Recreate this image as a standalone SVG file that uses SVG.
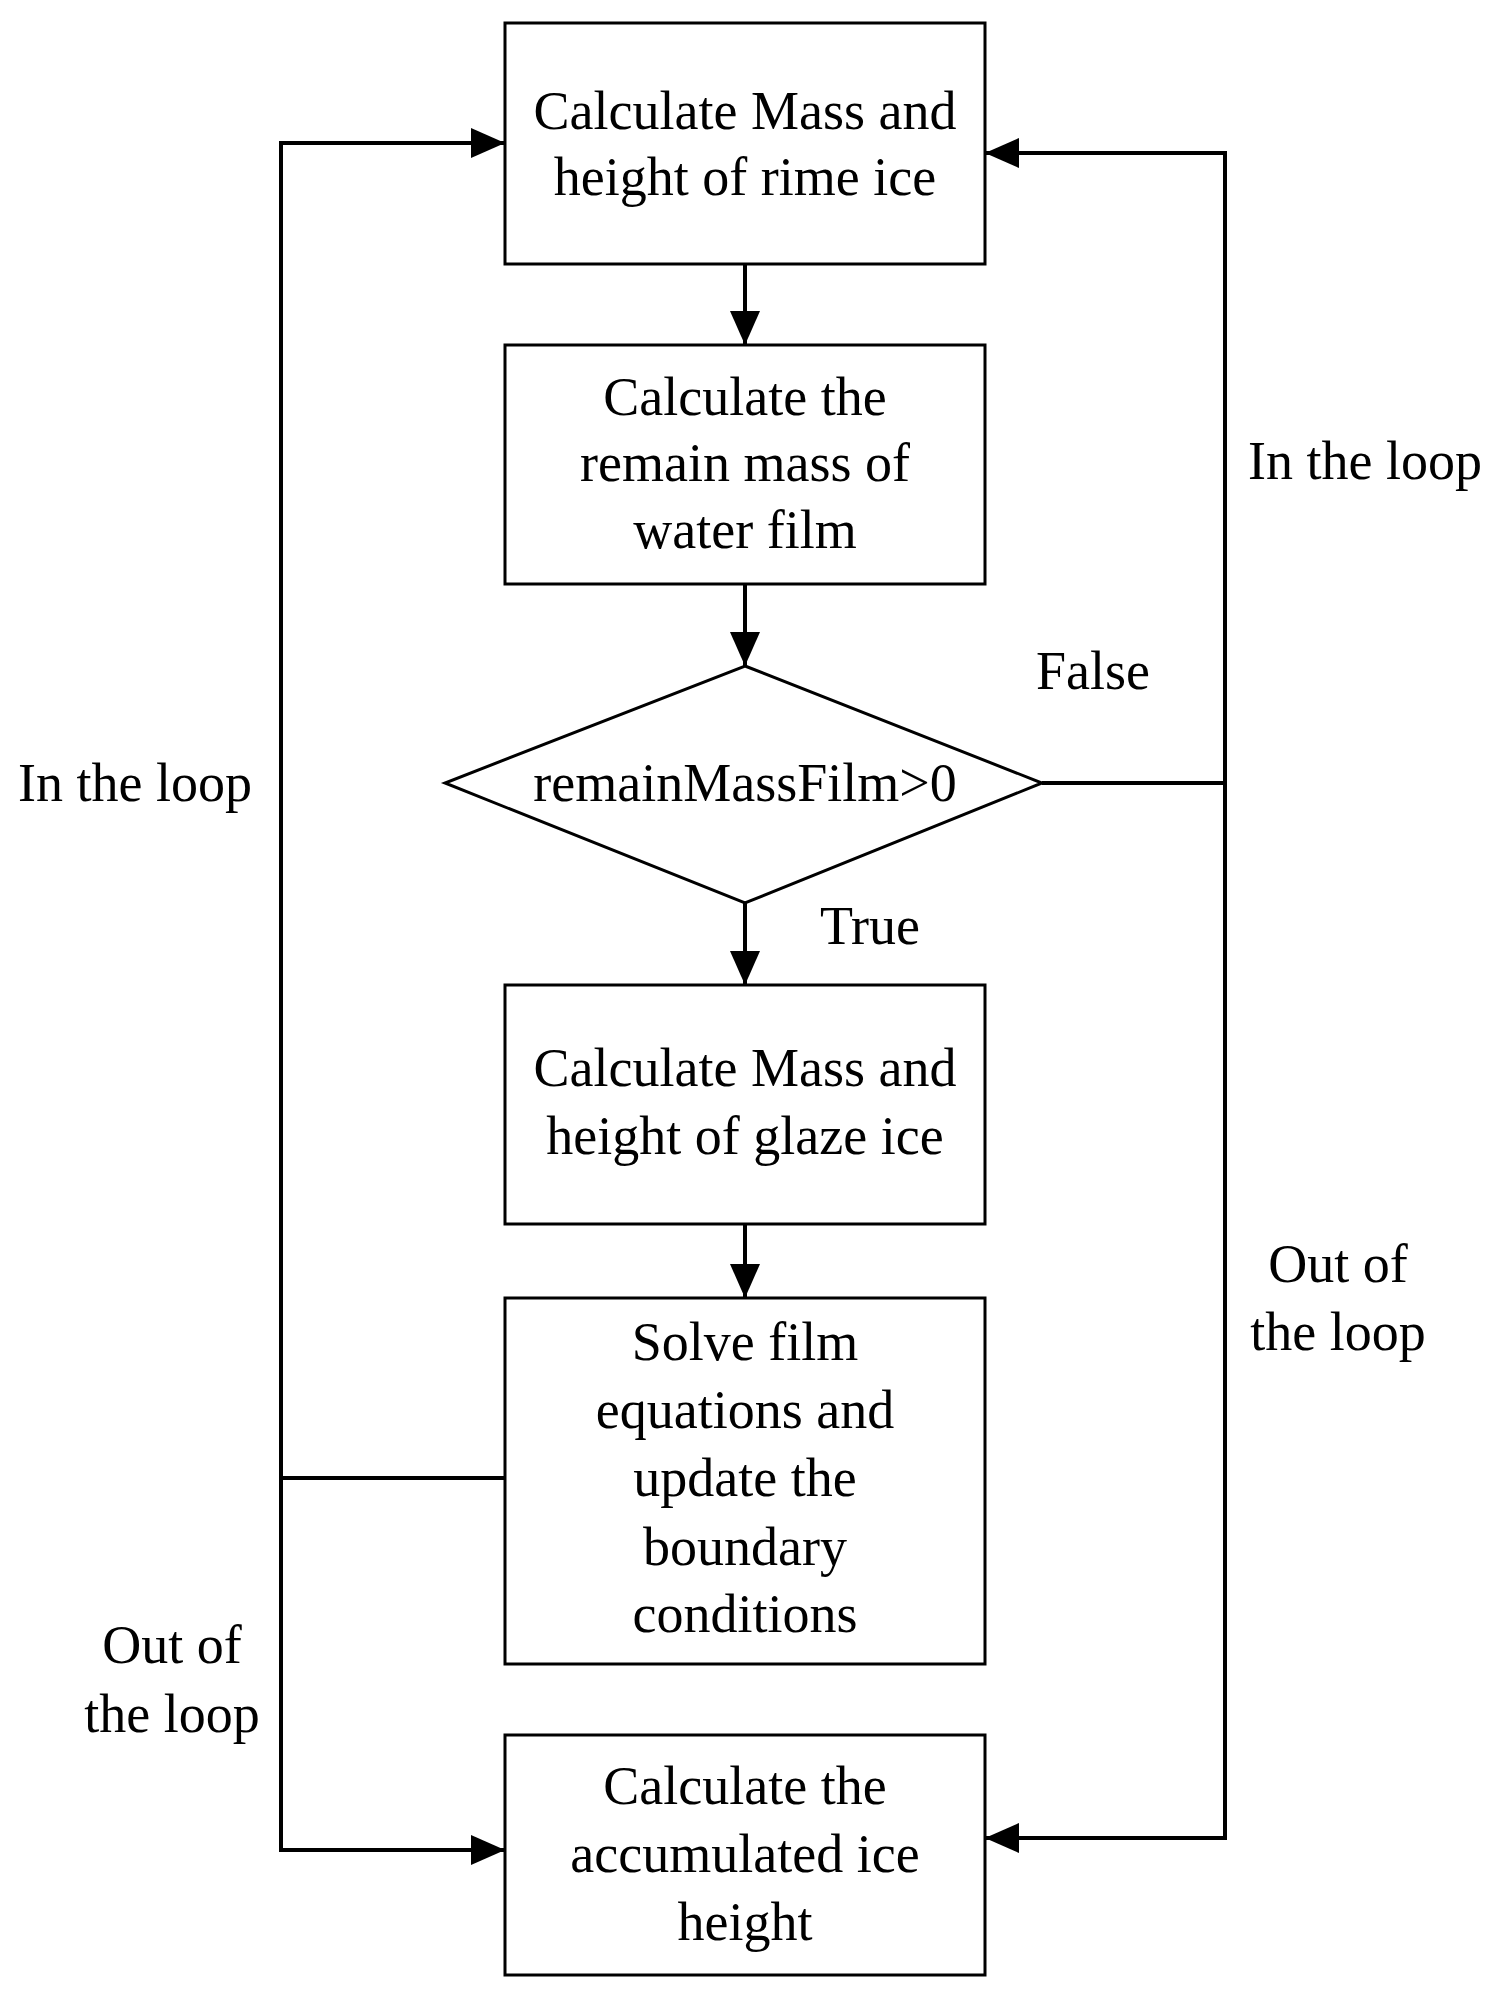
<svg xmlns="http://www.w3.org/2000/svg" width="1498" height="2000" viewBox="0 0 1498 2000">
<style>
.b{fill:#fff;stroke:#000;stroke-width:3}
.c{fill:none;stroke:#000;stroke-width:4}
text{font-family:"Liberation Serif","Times New Roman",serif;font-size:54px;fill:#000}
.m{text-anchor:middle}
</style>
<defs>
<marker id="h" viewBox="0 0 10 10" refX="10" refY="5" markerWidth="34" markerHeight="30" orient="auto" markerUnits="userSpaceOnUse" preserveAspectRatio="none"><path d="M0,0 L10,5 L0,10 z"/></marker></defs>
<rect width="1498" height="2000" fill="#fff"/>
<g id="connectors">
<path class="c" d="M745,264 V345" marker-end="url(#h)"/>
<path class="c" d="M745,584 V666" marker-end="url(#h)"/>
<path class="c" d="M745,903 V985" marker-end="url(#h)"/>
<path class="c" d="M745,1224 V1298" marker-end="url(#h)"/>
<path class="c" d="M505,1478 H281 V143 H505" marker-end="url(#h)"/>
<path class="c" d="M281,1478 V1850 H505" marker-end="url(#h)"/>
<path class="c" d="M1042,783 H1225 V153 H985" marker-end="url(#h)"/>
<path class="c" d="M1225,783 V1838 H985" marker-end="url(#h)"/>
</g>
<g id="n1"><rect class="b" x="505" y="23" width="480" height="241"/><text class="m" x="745" y="129">Calculate Mass and</text><text class="m" x="745" y="195">height of rime ice</text></g>
<g id="n2"><rect class="b" x="505" y="345" width="480" height="239"/><text class="m" x="745" y="415">Calculate the</text><text class="m" x="745" y="481">remain mass of</text><text class="m" x="745" y="548">water film</text></g>
<g id="n3"><polygon class="b" points="745,666 1042,783 745,903 445,783"/><text class="m" x="745" y="801">remainMassFilm&gt;0</text></g>
<g id="n4"><rect class="b" x="505" y="985" width="480" height="239"/><text class="m" x="745" y="1086">Calculate Mass and</text><text class="m" x="745" y="1154">height of glaze ice</text></g>
<g id="n5"><rect class="b" x="505" y="1298" width="480" height="366"/><text class="m" x="745" y="1360">Solve film</text><text class="m" x="745" y="1428">equations and</text><text class="m" x="745" y="1496">update the</text><text class="m" x="745" y="1565">boundary</text><text class="m" x="745" y="1632">conditions</text></g>
<g id="n6"><rect class="b" x="505" y="1735" width="480" height="240"/><text class="m" x="745" y="1804">Calculate the</text><text class="m" x="745" y="1872">accumulated ice</text><text class="m" x="745" y="1940">height</text></g>
<g id="labels">
<text x="1248" y="479">In the loop</text>
<text x="18" y="801">In the loop</text>
<text x="1036" y="689">False</text>
<text x="820" y="944">True</text>
<text class="m" x="1338" y="1282">Out of</text><text class="m" x="1338" y="1350">the loop</text>
<text class="m" x="172" y="1663">Out of</text><text class="m" x="172" y="1732">the loop</text>
</g>
</svg>
